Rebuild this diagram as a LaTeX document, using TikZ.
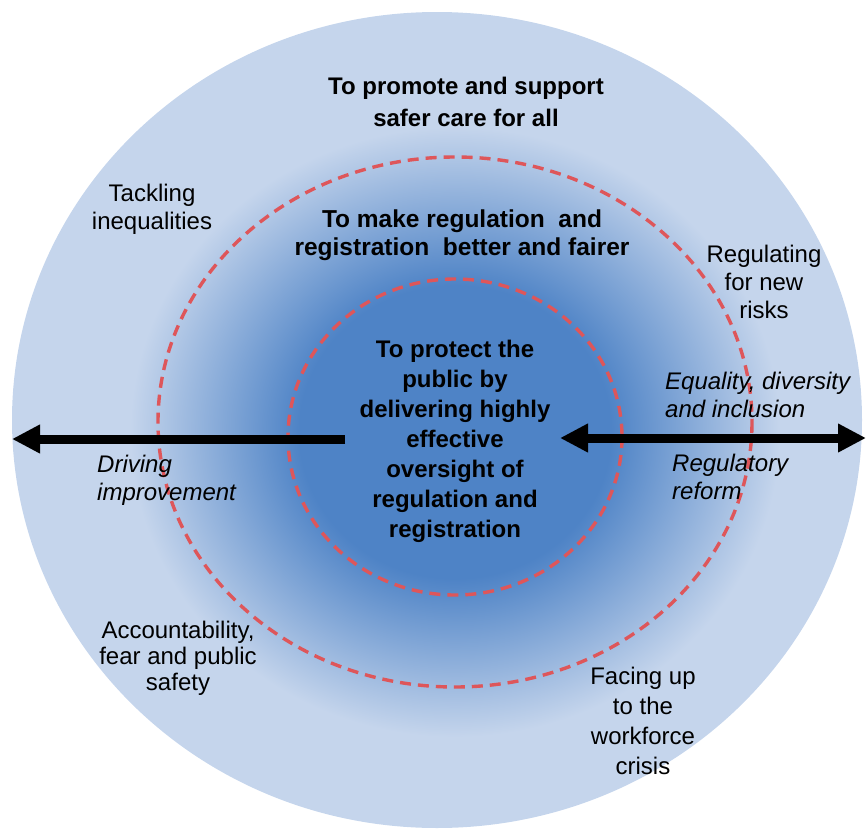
\documentclass[tikz,border=0pt]{standalone}
\usepackage{fontspec}
\setmainfont{Liberation Sans}
\usetikzlibrary{arrows.meta}
\definecolor{ringlight}{RGB}{197,213,236}
\definecolor{coredark}{RGB}{78,131,198}
\definecolor{dashred}{RGB}{222,86,90}
\pgfdeclareradialshading{coreglow}{\pgfpoint{0bp}{0bp}}{color(0bp)=(coredark); color(12bp)=(coredark); color(25bp)=(ringlight); color(50bp)=(ringlight)}
\begin{document}
\begin{tikzpicture}[x=1pt, y=-1pt,
    aim/.style = {font=\fontsize{24}{#1}\selectfont\bfseries, align=center, inner sep=0pt},
    aim/.default = 30,
    theme/.style = {font=\fontsize{24}{#1}\selectfont, align=center, inner sep=0pt},
    theme/.default = 28,
    lever/.style = {font=\fontsize{24}{28}\selectfont\itshape, align=left, inner sep=0pt, anchor=west},
    ring/.style = {draw=dashred, line width=3.4pt, dash pattern=on 11pt off 7pt},
    bar/.style = {line width=9pt, -{Triangle[length=28pt, width=27pt]}},
    twobar/.style = {line width=9pt, {Triangle[length=28pt, width=27pt]}-{Triangle[length=28pt, width=27pt]}}]
    \useasboundingbox (0,0) rectangle (868,830);

    % discs
    \fill[ringlight] (437,420) ellipse [x radius=425, y radius=408];
    \shade[shading=coreglow] (455,432) ellipse [x radius=325, y radius=305];
    \draw[ring] (455,422) ellipse [x radius=297, y radius=265];
    \draw[ring] (455,437) ellipse [x radius=167, y radius=158];

    % aims
    \node[aim=32] (safer) at (466,102) {To promote and support\\safer care for all};
    \node[aim=28, font=\fontsize{24.5}{28}\selectfont\bfseries] (fairer) at (462,235) {To make regulation\ \ and\\registration\ \ better and fairer};
    \node[aim] (protect) at (455,441) {To protect the\\public by\\delivering highly\\effective\\oversight of\\regulation and\\registration};

    % themes
    \node[theme] (tackling) at (152,209) {Tackling\\inequalities};
    \node[theme] (newrisks) at (764,282) {Regulating\\for new\\risks};
    \node[theme=26] (accountability) at (178,658) {Accountability,\\fear and public\\safety};
    \node[theme=30] (workforce) at (643,721) {Facing up\\to the\\workforce\\crisis};

    % levers
    \node[lever] (equality) at (665,395) {Equality, diversity\\and inclusion};
    \node[lever] (reform) at (672,477) {Regulatory\\reform};
    \node[lever] (driving) at (97,480) {Driving\\improvement};

    \coordinate (drivefoot) at (345,439);
    \coordinate (drivetip) at (12,439);
    \coordinate (reformtip) at (560,438);
    \coordinate (equalitytip) at (866,438);

    \draw[bar] (drivefoot) -- (drivetip);
    \draw[twobar] (reformtip) -- (equalitytip);
\end{tikzpicture}
\end{document}
